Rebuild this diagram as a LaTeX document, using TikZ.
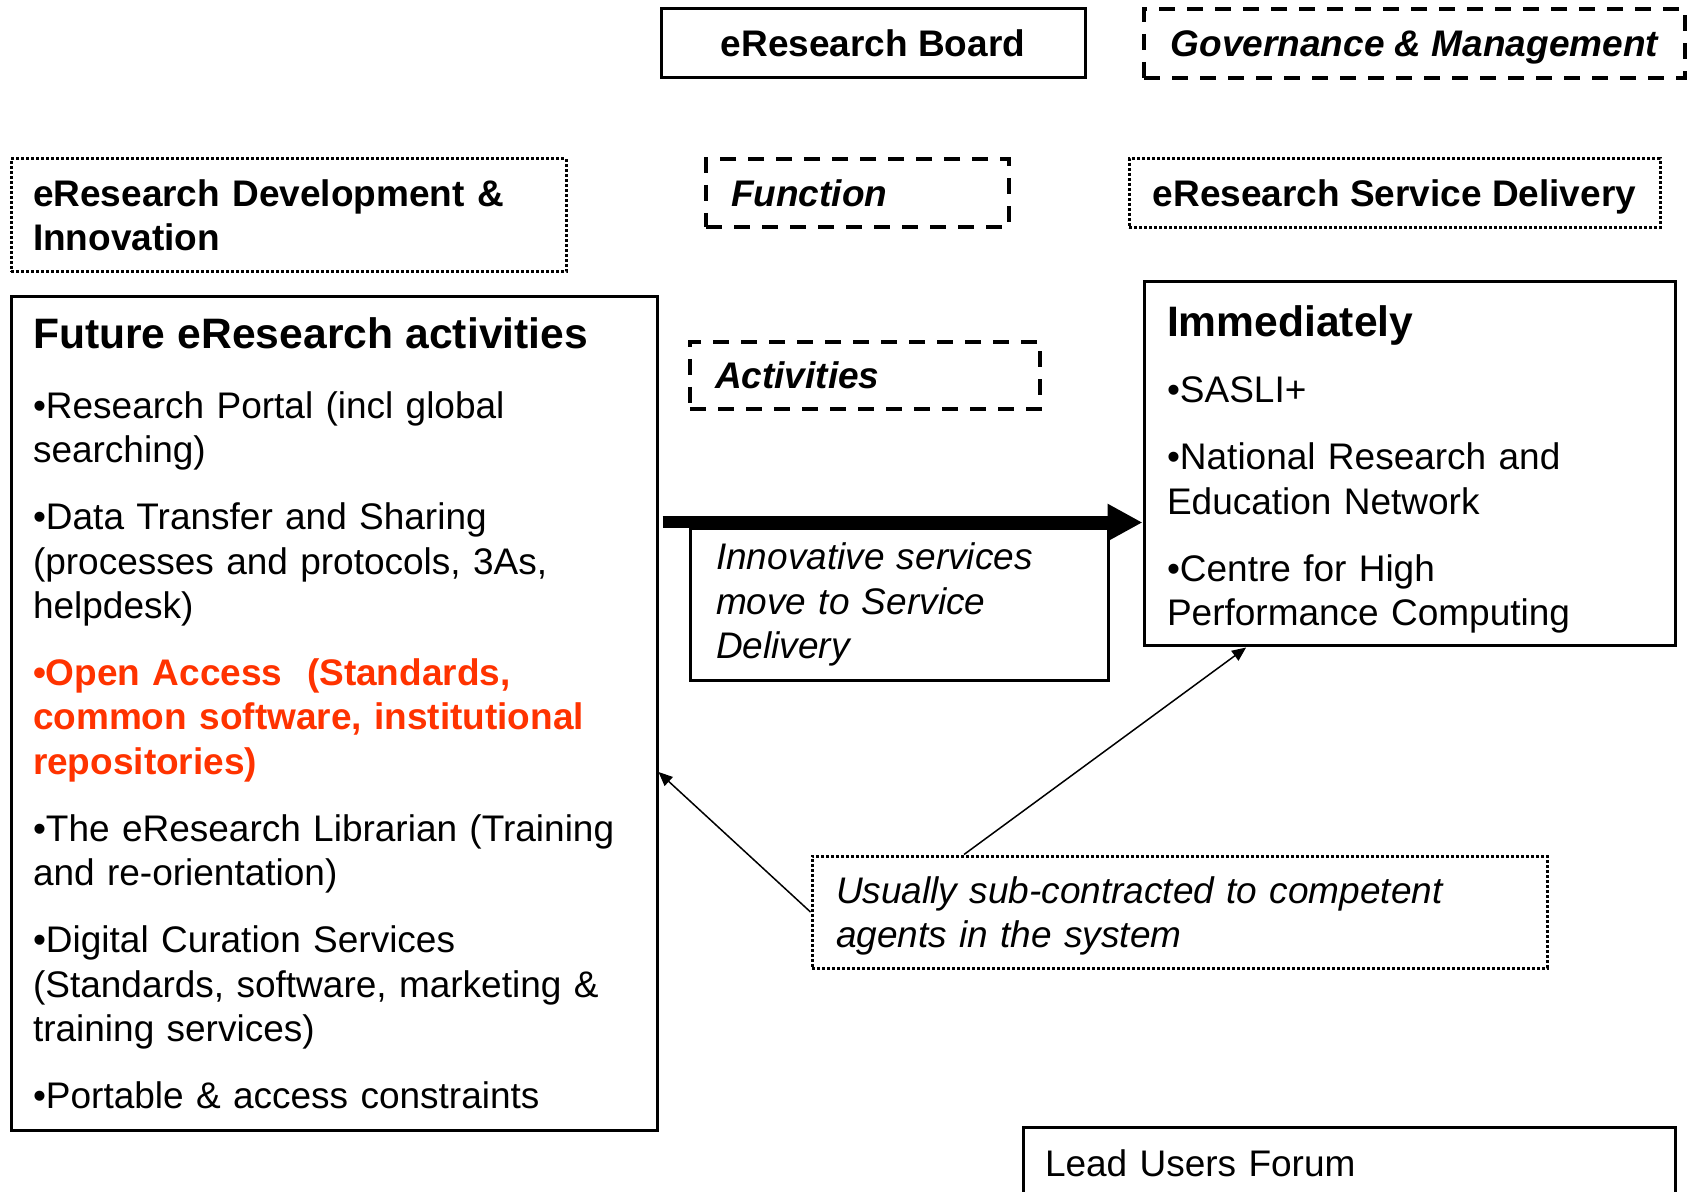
\documentclass[tikz,border=0pt]{standalone}
\usepackage{fontspec}
\setmainfont{Liberation Sans}
\usepackage{xcolor}
\usetikzlibrary{calc,arrows.meta,positioning}

\definecolor{oared}{RGB}{255,51,0}
\newcommand{\bodyfont}{\fontsize{18.5pt}{22.25pt}\selectfont}
\newcommand{\headfont}{\fontsize{21.3pt}{25pt}\selectfont\bfseries}

\begin{document}
\begin{tikzpicture}[x=0.5pt,y=-0.5pt,
    box/.style={draw,inner sep=0pt,font=\bodyfont},
    solidbox/.style={box,line width=1.5pt},
    dashbox/.style={box,line width=2pt,dash pattern=on 8pt off 6pt},
    dotbox/.style={box,line width=1.5pt,dash pattern=on 1.3pt off 1.2pt},
    leftbox/.style={align=left,text width=#1},
    bigarrow/.style={line width=6pt,-{Triangle[length=17.5pt,width=17.5pt]}},
    thinarrow/.style={line width=0.75pt,-{Triangle[length=7pt,width=6pt]}}]
    \useasboundingbox (0,0) rectangle (1688,1192);

    %heads
    \node[solidbox,minimum width=212pt,minimum height=34.5pt,font=\bodyfont\bfseries] (board) at (873,43.5) {eResearch Board};
    \node[dashbox,minimum width=270.5pt,minimum height=34.5pt,text depth=0pt,font=\bodyfont\bfseries\itshape] (govern) at (1414.5,43.5) {Governance \& Management};
    \node[dotbox,minimum width=277.5pt,minimum height=56.5pt,leftbox=255.5pt,font=\bodyfont\bfseries] (devinno) at (288.5,215.5) {eResearch Development \&\\Innovation};
    \node[dashbox,minimum width=151.5pt,minimum height=34pt,leftbox=126.5pt,font=\bodyfont\bfseries\itshape] (func) at (857.5,193) {Function};
    \node[dotbox,minimum width=265.5pt,minimum height=34.5pt,text depth=0pt,font=\bodyfont\bfseries] (servdel) at (1394.5,193.5) {eResearch Service Delivery};
    \node[dashbox,minimum width=175pt,minimum height=33.5pt,leftbox=150pt,font=\bodyfont\bfseries\itshape] (activ) at (865,375.5) {Activities};

    %activities
    \node[solidbox,minimum width=323pt,minimum height=416.5pt,leftbox=301pt] (future) at (334,713.5) {%
        {\headfont Future eResearch activities}\\[12.5pt]
        •Research Portal (incl global\\searching)\\[11.25pt]
        •Data Transfer and Sharing\\(processes and protocols, 3As,\\helpdesk)\\[11.25pt]
        {\color{oared}\bfseries •Open Access~ (Standards,\\common software, institutional\\repositories)}\\[11.25pt]
        •The eResearch Librarian (Training\\and re-orientation)\\[11.25pt]
        •Digital Curation Services\\(Standards, software, marketing \&\\training services)\\[11.25pt]
        •Portable \& access constraints};
    \node[solidbox,minimum width=265.5pt,minimum height=182pt,leftbox=242.5pt] (immed) at (1409.5,464) {%
        \rule{0pt}{21pt}{\headfont Immediately}\\[11pt]
        •SASLI+\\[11.25pt]
        •National Research and\\Education Network\\[11.25pt]
        •Centre for High\\Performance Computing};
    \node[solidbox,minimum width=209pt,minimum height=75.5pt,leftbox=183pt,font=\bodyfont\itshape] (innov) at (899,604.5) {Innovative services\\move to Service\\Delivery};
    \node[dotbox,minimum width=367.5pt,minimum height=56pt,leftbox=343.5pt,font=\bodyfont\itshape] (usual) at (1179.5,912) {\rule{0pt}{17.5pt}Usually sub-contracted to competent\\agents in the system};
    \node[solidbox,minimum width=326pt,minimum height=36pt,leftbox=304pt] (lead) at (1349,1163) {Lead Users Forum};

    %arrows
    \draw[bigarrow,shorten <=2pt] ($(future.east |- innov.north)+(0,-5)$) -- ($(immed.west |- innov.north)+(0,-5)$);
    \draw[thinarrow] (usual.west) -- ($(future.north east)!0.57!(future.south east)$);
    \draw[thinarrow] ($(usual.north west)!0.208!(usual.north east)$) -- ($(immed.south west)!0.194!(immed.south east)$);
\end{tikzpicture}
\end{document}
